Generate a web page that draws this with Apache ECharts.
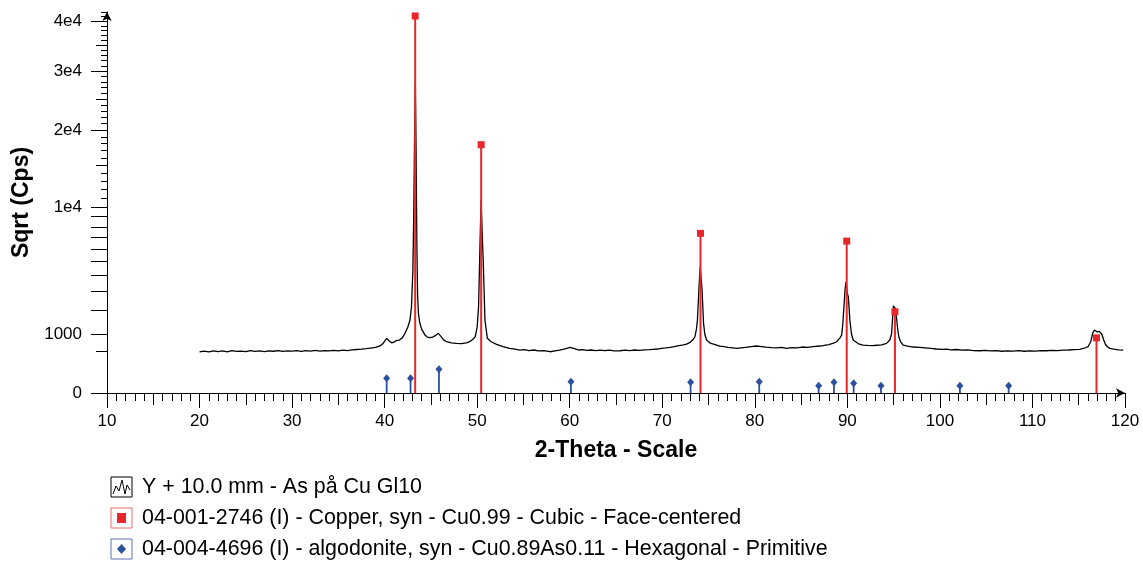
<!DOCTYPE html>
<html>
<head>
<meta charset="utf-8">
<title>XRD - As på Cu Gl10</title>
<script src="https://cdn.jsdelivr.net/npm/echarts@6/dist/echarts.min.js"></script>
<style>
    html, body { margin: 0; padding: 0; background: #fff; }
    #chart { width: 1143px; height: 562px; }
</style>
</head>
<body>
<div id="chart"></div>
<script>
// XRD scan (2-theta in degrees, intensity in counts)
const twoTheta = [
    20.0, 20.5, 21.0, 21.5, 22.0, 22.5, 23.0, 23.5, 24.0, 24.5, 25.0, 25.5, 26.0, 26.5, 27.0, 27.5,
    28.0, 28.5, 29.0, 29.5, 30.0, 30.5, 31.0, 31.5, 32.0, 32.5, 33.0, 33.5, 34.0, 34.5, 35.0, 35.5,
    36.0, 36.5, 37.0, 37.5, 38.0, 38.5, 39.0, 39.5, 39.8, 40.0, 40.22, 40.45, 40.75, 41.0, 41.3, 41.6,
    41.9, 42.2, 42.5, 42.74, 42.9, 43.05, 43.15, 43.25, 43.32, 43.4, 43.48, 43.56, 43.65, 43.8, 44.0,
    44.36, 44.6, 44.9, 45.2, 45.5, 45.8, 46.1, 46.4, 46.7, 47.2, 47.77, 48.3, 48.85, 49.3, 49.6, 49.8,
    50.0, 50.15, 50.3, 50.42, 50.55, 50.66, 50.84, 51.1, 51.5, 52.1, 52.8, 53.5, 54.1, 54.6, 55.1, 55.6,
    56.1, 56.6, 57.2, 57.87, 58.4, 58.9, 59.5, 60.03, 60.5, 61.0, 61.4, 61.83, 62.3, 62.8, 63.3, 63.8,
    64.3, 64.8, 65.43, 66.0, 66.5, 67.0, 67.5, 68.1, 68.6, 69.0, 69.5, 69.9, 70.4, 70.83, 71.3, 71.8,
    72.3, 72.63, 73.0, 73.3, 73.53, 73.7, 73.8, 73.97, 74.1, 74.3, 74.46, 74.6, 74.79, 75.2, 75.7, 76.23,
    76.7, 77.1, 77.6, 78.03, 78.5, 79.0, 79.6, 80.2, 80.7, 81.2, 81.8, 82.3, 82.9, 83.4, 84.0, 84.5,
    85.1, 85.7, 86.3, 87.04, 87.5, 88.0, 88.5, 88.84, 89.2, 89.38, 89.5, 89.63, 89.75, 89.85, 89.97, 90.1,
    90.2, 90.27, 90.45, 90.63, 91.2, 91.7, 92.2, 92.7, 93.2, 93.7, 94.24, 94.6, 94.78, 94.9, 94.98, 95.1,
    95.2, 95.3, 95.45, 95.56, 95.75, 96.03, 96.5, 97.1, 97.83, 98.4, 99.0, 99.6, 100.2, 100.7, 101.2, 101.8,
    102.4, 103.0, 103.6, 104.3, 104.9, 105.5, 106.1, 106.7, 107.3, 107.9, 108.5, 109.1, 109.7, 110.3, 110.9, 111.5,
    112.1, 112.7, 113.3, 113.9, 114.5, 115.1, 115.6, 116.0, 116.3, 116.5, 116.7, 116.85, 117.0, 117.1, 117.22, 117.34,
    117.5, 117.7, 117.9, 118.1, 118.37, 118.8, 119.3, 119.8
];
const counts = [
    492, 510, 488, 515, 498, 512, 490, 518, 500, 508, 495, 520, 502, 512, 498, 516,
    505, 520, 500, 514, 506, 522, 504, 518, 510, 525, 508, 520, 512, 528, 515, 530,
    520, 540, 548, 556, 570, 585, 600, 640, 700, 780, 865, 800, 731, 750, 800, 812,
    880, 1030, 1250, 1540, 2150, 4300, 9500, 21000, 27400, 17000, 6500, 2800, 1850, 1416, 1180,
    972, 905, 884, 905, 960, 1030, 920, 810, 761, 730, 714, 705, 730, 780, 850, 930,
    1270, 2150, 6190, 10770, 7200, 4885, 1540, 865, 760, 685, 625, 577, 555, 534, 545, 522,
    535, 512, 520, 493, 512, 530, 565, 604, 570, 535, 545, 525, 535, 518, 530, 520,
    532, 515, 517, 530, 520, 535, 525, 538, 545, 552, 560, 575, 590, 604, 625, 650,
    672, 694, 740, 820, 916, 1200, 1540, 3265, 4610, 3066, 1404, 1000, 812, 720, 680, 639,
    620, 605, 590, 577, 590, 600, 620, 639, 625, 610, 598, 590, 600, 577, 595, 590,
    612, 605, 625, 639, 655, 680, 720, 761, 880, 972, 1350, 2150, 3100, 3580, 2950, 2680,
    2000, 1540, 1000, 812, 700, 666, 655, 648, 660, 672, 714, 820, 1030, 1700, 2200, 2290,
    2050, 1682, 1150, 916, 760, 666, 635, 612, 604, 590, 575, 560, 552, 558, 540, 548,
    530, 538, 522, 517, 528, 512, 520, 505, 515, 510, 518, 505, 515, 508, 520, 517,
    525, 520, 532, 535, 545, 552, 580, 620, 760, 1030, 1150, 1172, 1080, 1051, 1100, 1147,
    1000, 812, 680, 620, 577, 555, 540, 534
];

// reference patterns (stick positions and heights)
const copperPos = [43.30, 50.43, 74.13, 89.93, 95.14, 116.92];
const copperInt = [41150, 17850, 7380, 6680, 1910, 880];
const algodonitePos = [40.22, 42.80, 45.87, 60.13, 73.06, 80.48, 86.90, 88.55, 90.68, 93.63, 102.16, 107.43];
const algodoniteInt = [62, 62, 162, 37, 33, 37, 15, 33, 27, 15, 15, 15];

// y axis (square-root scale)
const yLabelCounts = [0, 1000, 10000, 20000, 30000, 40000];
const yLabelTexts = ['0', '1000', '1e4', '2e4', '3e4', '4e4'];
const yLongTicks = [0, 1000, 2000, 3000, 4000, 5000, 6000, 7000, 8000, 9000, 10000, 20000, 30000, 40000];
const yMidTicks = [500, 15000, 25000, 35000];
const yShortTicks = [];
for (let c = 11000; c <= 42000; c += 1000) {
    if (c % 5000 !== 0) yShortTicks.push(c);
}
const xMidTicks = [15, 25, 35, 45, 55, 65, 75, 85, 95, 105, 115];

const legendNames = [
    'Y + 10.0 mm - As på Cu Gl10',
    '04-001-2746 (I) - Copper, syn - Cu0.99 - Cubic - Face-centered',
    '04-004-4696 (I) - algodonite, syn - Cu0.89As0.11 - Hexagonal - Primitive'
];

const FONT = '"Liberation Sans", Arial, Helvetica, sans-serif';
const LEGEND_FONT = '21.4px ' + FONT;
const RED = '#e8262b';
const BLUE = '#2c4f9e';
const Y_MAX = 205;

function sq(v) { return Math.sqrt(v); }

function stickRenderer(color, lineWidth, shape) {
    return function (params, api) {
        const base = api.coord([api.value(0), 0]);
        const top = api.coord([api.value(0), api.value(1)]);
        const stick = {
            type: 'line',
            shape: { x1: base[0], y1: base[1], x2: top[0], y2: top[1] },
            style: { stroke: color, lineWidth: lineWidth }
        };
        let marker;
        if (shape === 'rect') {
            marker = {
                type: 'rect',
                shape: { x: top[0] - 3.5, y: top[1] - 3.5, width: 7, height: 7 },
                style: { fill: color }
            };
        } else {
            marker = {
                type: 'polygon',
                shape: { points: [[top[0], top[1] - 4], [top[0] + 3.5, top[1]], [top[0], top[1] + 4], [top[0] - 3.5, top[1]]] },
                style: { fill: color }
            };
        }
        return { type: 'group', children: [stick, marker] };
    };
}

function overlayYAxis(values, len) {
    return {
        type: 'value', min: 0, max: Y_MAX, position: 'left',
        axisLine: { show: false, onZero: false },
        axisLabel: { show: false },
        axisTick: { show: true, customValues: values.map(sq), length: len, lineStyle: { color: '#000' } },
        splitLine: { show: false }
    };
}

const chart = echarts.init(document.getElementById('chart'));

const option = {
    animation: false,
    backgroundColor: '#fff',
    grid: { left: 107, right: 18, top: 12, bottom: 169, outerBoundsMode: 'none' },
    xAxis: [
        {
            type: 'value', min: 10, max: 120, interval: 10, position: 'bottom',
            axisLine: { show: true, onZero: false, symbol: ['none', 'arrow'], symbolSize: [7, 9], lineStyle: { color: '#000', width: 1 } },
            axisTick: { length: 15, lineStyle: { color: '#000' } },
            minorTick: { show: true, splitNumber: 10, length: 8, lineStyle: { color: '#000' } },
            axisLabel: { color: '#000', fontSize: 17, fontFamily: FONT, margin: 20 },
            splitLine: { show: false },
            minorSplitLine: { show: false },
            name: '2-Theta - Scale',
            nameLocation: 'middle',
            nameGap: 46,
            nameTextStyle: { color: '#000', fontSize: 23, fontWeight: 'bold', fontFamily: FONT }
        },
        {
            type: 'value', min: 10, max: 120, position: 'bottom',
            axisLine: { show: false, onZero: false },
            axisLabel: { show: false },
            axisTick: { show: true, customValues: xMidTicks, length: 12, lineStyle: { color: '#000' } },
            splitLine: { show: false }
        }
    ],
    yAxis: [
        {
            type: 'value', min: 0, max: Y_MAX, position: 'left',
            axisLine: { show: true, onZero: false, symbol: ['none', 'arrow'], symbolSize: [7, 9], lineStyle: { color: '#000', width: 1 } },
            axisTick: { show: true, customValues: yLongTicks.map(sq), length: 16, lineStyle: { color: '#000' } },
            axisLabel: {
                customValues: yLabelCounts.map(sq),
                color: '#000', fontSize: 17, fontFamily: FONT, margin: 25,
                formatter: function (v) {
                    for (let i = 0; i < yLabelCounts.length; i++) {
                        if (Math.abs(sq(yLabelCounts[i]) - v) < 1e-6) return yLabelTexts[i];
                    }
                    return '';
                }
            },
            splitLine: { show: false },
            name: 'Sqrt (Cps)',
            nameLocation: 'middle',
            nameGap: 72,
            nameTextStyle: { color: '#000', fontSize: 23, fontWeight: 'bold', fontFamily: FONT }
        },
        overlayYAxis(yMidTicks, 11),
        overlayYAxis(yShortTicks, 6)
    ],
    series: [
        {
            name: legendNames[0],
            type: 'line',
            data: twoTheta.map((t, i) => [t, sq(counts[i])]),
            showSymbol: false,
            sampling: false,
            lineStyle: { color: '#000', width: 1.3 },
            itemStyle: { color: '#000' },
            z: 2
        },
        {
            name: legendNames[1],
            type: 'custom',
            data: copperPos.map((p, i) => [p, sq(copperInt[i])]),
            encode: { x: 0, y: 1 },
            renderItem: stickRenderer(RED, 2, 'rect'),
            clip: false,
            z: 3
        },
        {
            name: legendNames[2],
            type: 'custom',
            data: algodonitePos.map((p, i) => [p, sq(algodoniteInt[i])]),
            encode: { x: 0, y: 1 },
            renderItem: stickRenderer(BLUE, 1.8, 'diamond'),
            clip: false,
            z: 3
        }
    ],
    graphic: [
        // legend, drawn by hand to get the framed icons
        { type: 'rect', shape: { x: 111, y: 477, width: 21, height: 20 }, style: { fill: '#fff', stroke: '#000', lineWidth: 1 } },
        { type: 'polyline', shape: { points: [[113, 494], [116, 486], [119, 491], [122, 480], [125, 494], [127, 485], [130, 490]] }, style: { stroke: '#000', lineWidth: 1, fill: null } },
        { type: 'text', x: 142, y: 487, style: { text: legendNames[0], font: LEGEND_FONT, fill: '#000', verticalAlign: 'middle' } },

        { type: 'rect', shape: { x: 111, y: 508, width: 21, height: 20 }, style: { fill: '#fff', stroke: '#ee6a6a', lineWidth: 1 } },
        { type: 'rect', shape: { x: 117, y: 513, width: 9, height: 10 }, style: { fill: RED } },
        { type: 'text', x: 142, y: 518, style: { text: legendNames[1], font: LEGEND_FONT, fill: '#000', verticalAlign: 'middle' } },

        { type: 'rect', shape: { x: 111, y: 539, width: 21, height: 20 }, style: { fill: '#fff', stroke: '#5a75b8', lineWidth: 1 } },
        { type: 'polygon', shape: { points: [[121.5, 544], [126, 549], [121.5, 554], [117, 549]] }, style: { fill: BLUE } },
        { type: 'text', x: 142, y: 549, style: { text: legendNames[2], font: LEGEND_FONT, fill: '#000', verticalAlign: 'middle' } }
    ]
};

chart.setOption(option);

window.addEventListener('resize', function () {
    chart && chart.resize();
});
</script>
</body>
</html>
